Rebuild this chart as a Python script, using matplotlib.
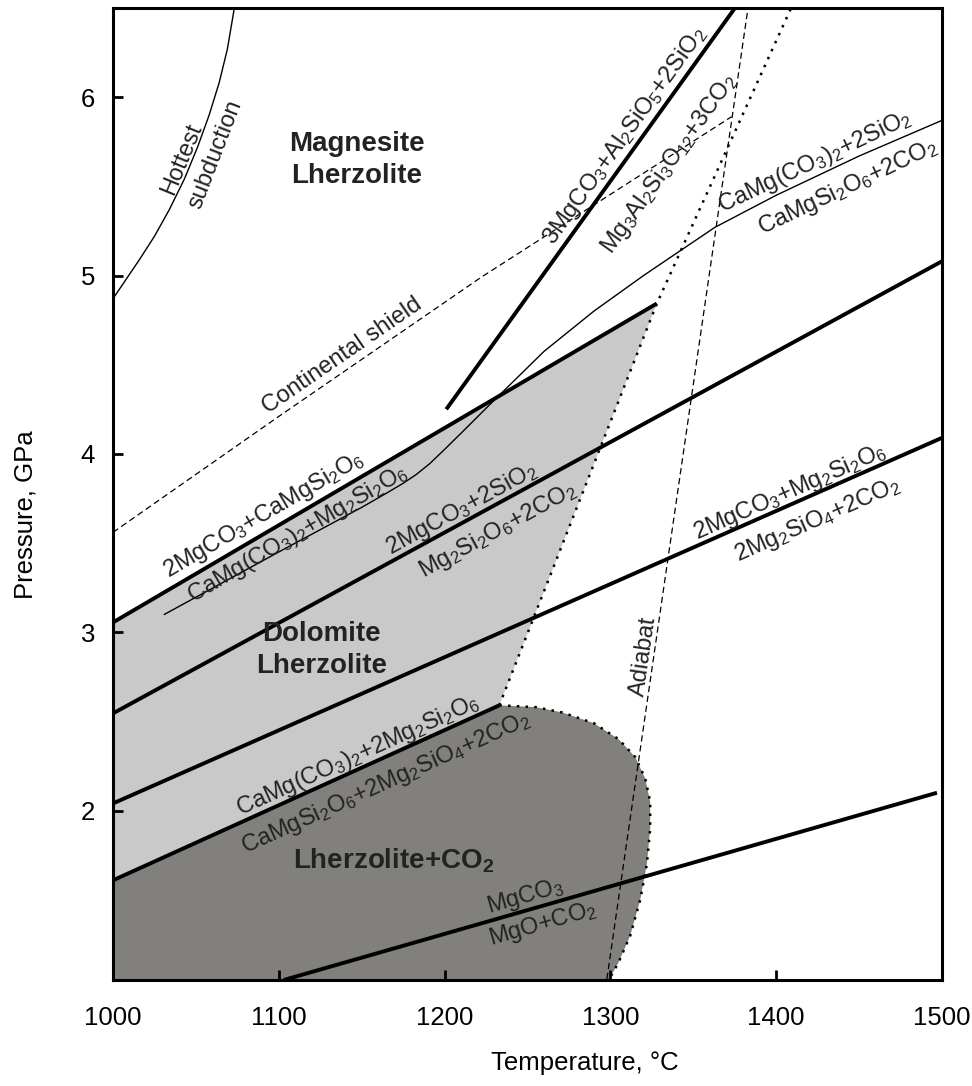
import numpy as np
import matplotlib.pyplot as plt

plt.rcParams['font.family'] = ['Liberation Sans', 'DejaVu Sans']
plt.rcParams['mathtext.fontset'] = 'custom'
plt.rcParams['mathtext.rm'] = 'Liberation Sans'
plt.rcParams['mathtext.it'] = 'Liberation Sans:italic'
plt.rcParams['mathtext.bf'] = 'Liberation Sans:bold'
plt.rcParams['mathtext.default'] = 'regular'

## Reaction boundaries, temperature in deg C and pressure in GPa
# 2MgCO3+CaMgSi2O6 = CaMg(CO3)2+Mg2Si2O6
dol_T = [1000, 1328]
dol_P = [3.055, 4.843]
# 2MgCO3+2SiO2 = Mg2Si2O6+2CO2
en_T = [1000, 1500]
en_P = [2.545, 5.08]
# 2MgCO3+Mg2Si2O6 = 2Mg2SiO4+2CO2
fo_T = [1000, 1500]
fo_P = [2.04, 4.09]
# CaMg(CO3)2+2Mg2Si2O6 = CaMgSi2O6+2Mg2SiO4+2CO2
dec_T = [1000, 1233]
dec_P = [1.609, 2.59]
# MgCO3 = MgO+CO2
mgs_T = [1103, 1497]
mgs_P = [1.05, 2.10]
# 3MgCO3+Al2SiO5+2SiO2 = Mg3Al2Si3O12+3CO2
grt_T = [1201, 1379]
grt_P = [4.25, 6.55]
# CaMg(CO3)2+2SiO2 = CaMgSi2O6+2CO2 (thin curve)
di_T = [1031, 1100, 1150, 1165, 1175, 1183, 1191, 1200, 1212, 1226, 1260,
        1290, 1320, 1363, 1400, 1450, 1500]
di_P = [3.10, 3.45, 3.70, 3.78, 3.835, 3.885, 3.945, 4.025, 4.135, 4.265, 4.575,
        4.80, 5.00, 5.27, 5.45, 5.67, 5.87]

# carbonated peridotite solidus (dotted)
sol_T = [1233, 1328, 1409]
sol_P = [2.59, 4.843, 6.5]
# lower edge of the Lherzolite+CO2 field (dotted)
low_T = [1233, 1255, 1271, 1290, 1305, 1315, 1321, 1324, 1324, 1322, 1318, 1312, 1305, 1299, 1297]
low_P = [2.59, 2.58, 2.55, 2.49, 2.40, 2.30, 2.18, 2.05, 1.90, 1.70, 1.50, 1.30, 1.15, 1.05, 1.00]

# geotherms
hot_T = [1000, 1008, 1016, 1025, 1034, 1043, 1051, 1058, 1064, 1069, 1073, 1075]
hot_P = [4.87, 4.98, 5.09, 5.22, 5.37, 5.54, 5.72, 5.90, 6.08, 6.27, 6.49, 6.60]
shield_T = [1000, 1100, 1222, 1373]
shield_P = [3.56, 4.21, 4.99, 5.89]
adiabat_T = [1297, 1383]
adiabat_P = [1.0, 6.5]

light = '#c9c9c9'
dark = '#82807d'
ink = '#222222'

fig = plt.figure(figsize=(9.72, 10.86), dpi=100)
ax = fig.add_axes([113 / 972, 1 - 980 / 1086, 829 / 972, 972 / 1086])
ax.set_xlim(1000, 1500)
ax.set_ylim(1.05, 6.5)

# shaded fields
ax.fill(dol_T + sol_T[1::-1] + dec_T[::-1], dol_P + sol_P[1::-1] + dec_P[::-1],
        color=light, lw=0, zorder=0)
ax.fill(dec_T + low_T + [1000], dec_P + low_P + [1.0], color=dark, lw=0, zorder=0)

heavy = dict(color='k', lw=2.8, solid_capstyle='butt', zorder=3)
for T, P in [(dol_T, dol_P), (en_T, en_P), (fo_T, fo_P), (dec_T, dec_P),
             (mgs_T, mgs_P), (grt_T, grt_P)]:
    ax.plot(T, P, **heavy)

ax.plot(di_T, di_P, color='k', lw=1.0, zorder=2)
ax.plot(hot_T, hot_P, color='k', lw=1.0, zorder=2)
ax.plot(shield_T, shield_P, color='k', lw=0.9, ls=(0, (5, 3)), zorder=2)
ax.plot(adiabat_T, adiabat_P, color='k', lw=0.9, ls=(0, (5, 3)), zorder=2)
ax.plot(sol_T, sol_P, color='k', lw=1.8, ls=(0, (1, 2.5)), zorder=2)
ax.plot(low_T, low_P, color='k', lw=1.8, ls=(0, (1, 2.5)), zorder=2)


def along(T, P, x, text, off, size=17):
    # text centred on the curve at x, turned with it and pushed off pixels sideways
    y = np.interp(x, T, P)
    a = ax.transData.transform((x - 1, np.interp(x - 1, T, P)))
    b = ax.transData.transform((x + 1, np.interp(x + 1, T, P)))
    ang = np.degrees(np.arctan2(b[1] - a[1], b[0] - a[0]))
    r = np.radians(ang)
    ax.annotate(text, (x, y), xytext=(-np.sin(r) * off, np.cos(r) * off),
                textcoords='offset pixels', rotation=ang, rotation_mode='anchor',
                ha='center', va='center', fontsize=size, color=ink, zorder=4)


along(dol_T, dol_P, 1096, r'2MgCO$_3$+CaMgSi$_2$O$_6$', 16)
along(dol_T, dol_P, 1106, r'CaMg(CO$_3$)$_2$+Mg$_2$Si$_2$O$_6$', -17)
along(en_T, en_P, 1214, r'2MgCO$_3$+2SiO$_2$', 12)
along(en_T, en_P, 1225, r'Mg$_2$Si$_2$O$_6$+2CO$_2$', -24)
along(fo_T, fo_P, 1411, r'2MgCO$_3$+Mg$_2$Si$_2$O$_6$', 12)
along(fo_T, fo_P, 1419, r'2Mg$_2$SiO$_4$+2CO$_2$', -25)
along(di_T, di_P, 1427, r'CaMg(CO$_3$)$_2$+2SiO$_2$', 13)
along(di_T, di_P, 1437, r'CaMgSi$_2$O$_6$+2CO$_2$', -24)
along(grt_T, grt_P, 1316, r'3MgCO$_3$+Al$_2$SiO$_5$+2SiO$_2$', 14)
along(grt_T, grt_P, 1317, r'Mg$_3$Al$_2$Si$_3$O$_{12}$+3CO$_2$', -38)
along(dec_T, dec_P, 1151, r'CaMg(CO$_3$)$_2$+2Mg$_2$Si$_2$O$_6$', 12)
along(dec_T, dec_P, 1159, r'CaMgSi$_2$O$_6$+2Mg$_2$SiO$_4$+2CO$_2$', -24)
along(mgs_T, mgs_P, 1251, r'MgCO$_3$', 14)
along(mgs_T, mgs_P, 1256, r'MgO+CO$_2$', -18)
along(shield_T, shield_P, 1143, 'Continental shield', 14)
along(hot_T, hot_P, 1047, 'Hottest', 10)
along(hot_T, hot_P, 1051, 'subduction', -19)
along(adiabat_T, adiabat_P, 1326, 'Adiabat', 10)

# stability fields
field = dict(fontsize=20, fontweight='bold', color=ink, ha='center', va='center',
             linespacing=1.3, zorder=4)
ax.text(1147, 5.645, 'Magnesite\nLherzolite', **field)
ax.text(1126, 2.90, 'Dolomite\nLherzolite', **field)
ax.text(1169, 1.72, r'Lherzolite+CO$_2$', **field)

ax.set_xticks(np.arange(1000, 1501, 100))
ax.set_yticks(np.arange(2, 7, 1))
ax.tick_params(direction='in', length=7, width=2, labelsize=18.5, color='k')
ax.tick_params(axis='x', pad=19)
ax.tick_params(axis='y', pad=13)
for s in ax.spines.values():
    s.set_linewidth(2.2)
    s.set_zorder(5)

ax.set_xlabel('Temperature, °C', fontsize=18.5)
ax.xaxis.set_label_coords(0.569, -0.0854)
ax.xaxis.label.set_va('center')
ax.set_ylabel('Pressure, GPa', fontsize=18.5)
ax.yaxis.set_label_coords(-0.106, 0.479)
ax.yaxis.label.set_va('center')

fig.savefig('out.png', dpi=100)
